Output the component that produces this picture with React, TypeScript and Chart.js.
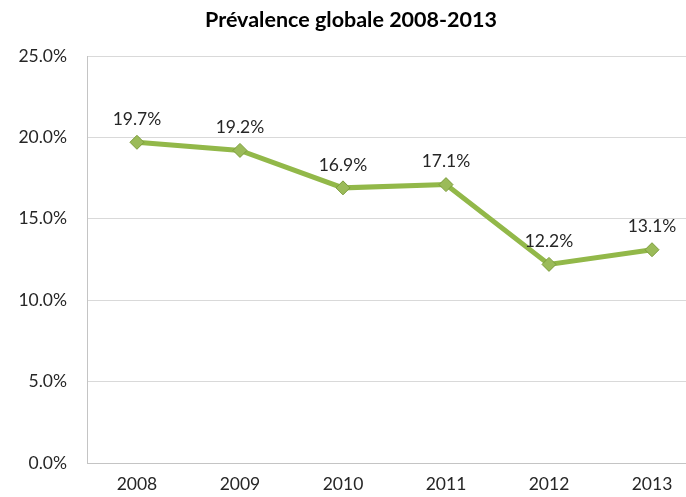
import React, { useEffect, useRef } from "react";
import { Chart, registerables } from "chart.js";

Chart.register(...registerables);

const years = [2008, 2009, 2010, 2011, 2012, 2013];
const prevalence = [19.7, 19.2, 16.9, 17.1, 12.2, 13.1];
const yTicks = [0, 5, 10, 15, 20, 25];
const titleText = "Prévalence globale 2008-2013";

const FONT = "Lato, 'Open Sans', sans-serif";

const dataLabels = {
  id: "dataLabels",
  afterDatasetsDraw(chart: any) {
    const ctx = chart.ctx;
    const meta = chart.getDatasetMeta(0);
    ctx.save();
    ctx.font = `17.5px ${FONT}`;
    ctx.fillStyle = "#262626";
    ctx.textAlign = "center";
    ctx.textBaseline = "middle";
    meta.data.forEach((pt: any, i: number) => {
      ctx.fillText(prevalence[i].toFixed(1) + "%", pt.x, pt.y - 23);
    });
    ctx.restore();
  },
};

const titlePlugin = {
  id: "customTitle",
  afterDraw(chart: any) {
    const ctx = chart.ctx;
    ctx.save();
    ctx.font = `bold 21.5px ${FONT}`;
    ctx.fillStyle = "#000000";
    ctx.textAlign = "center";
    ctx.textBaseline = "middle";
    ctx.fillText(titleText, 351, 20);
    ctx.restore();
  },
};

export default function App() {
  const ref = useRef<HTMLCanvasElement>(null);
  useEffect(() => {
    if (!ref.current) return;
    const chart = new Chart(ref.current, {
      type: "line",
      data: {
        datasets: [
          {
            data: years.map((y, i) => ({ x: y, y: prevalence[i] })),
            borderColor: "#92b849",
            borderWidth: 5,
            pointStyle: "rectRot",
            pointRadius: 7,
            pointHoverRadius: 7,
            pointBackgroundColor: "#9bbb59",
            pointBorderColor: "#7c9c3c",
            pointBorderWidth: 1,
            tension: 0,
            clip: false,
          },
        ],
      },
      options: {
        animation: false,
        responsive: false,
        devicePixelRatio: 1,
        layout: { autoPadding: false, padding: { left: 0, right: 0, top: 56, bottom: 0 } },
        plugins: {
          legend: { display: false },
          tooltip: { enabled: false },
          title: { display: false },
        },
        scales: {
          x: {
            type: "linear",
            min: 2007.515,
            max: 2013.33,
            afterBuildTicks: (scale: any) => {
              scale.ticks = years.map((v) => ({ value: v }));
            },
            afterFit: (scale: any) => {
              scale.height = 34;
              scale.paddingLeft = 0;
              scale.paddingRight = 0;
            },
            grid: { display: false, drawTicks: false },
            border: { display: true, color: "#c4c4c4", width: 1 },
            ticks: {
              padding: 11,
              color: "#262626",
              font: { family: FONT, size: 17.5 },
              callback: (v: any) => String(v),
              maxRotation: 0,
              autoSkip: false,
            },
          },
          y: {
            min: 0,
            max: 25,
            afterBuildTicks: (scale: any) => {
              scale.ticks = yTicks.map((v) => ({ value: v }));
            },
            afterFit: (scale: any) => {
              scale.width = 87;
              scale.paddingTop = 0;
              scale.paddingBottom = 0;
            },
            grid: { color: "#d9d9d9", drawTicks: false },
            border: { display: true, color: "#c4c4c4", width: 1 },
            ticks: {
              padding: 20,
              color: "#262626",
              font: { family: FONT, size: 17.5 },
              callback: (v: any) => Number(v).toFixed(1) + "%",
            },
          },
        },
      },
      plugins: [dataLabels, titlePlugin],
    });
    return () => chart.destroy();
  }, []);
  return (
    <div style={{ position: "absolute", left: 0, top: 0, width: 686, height: 497, background: "#fff" }}>
      <canvas ref={ref} width={686} height={497} style={{ width: 686, height: 497 }} />
    </div>
  );
}
